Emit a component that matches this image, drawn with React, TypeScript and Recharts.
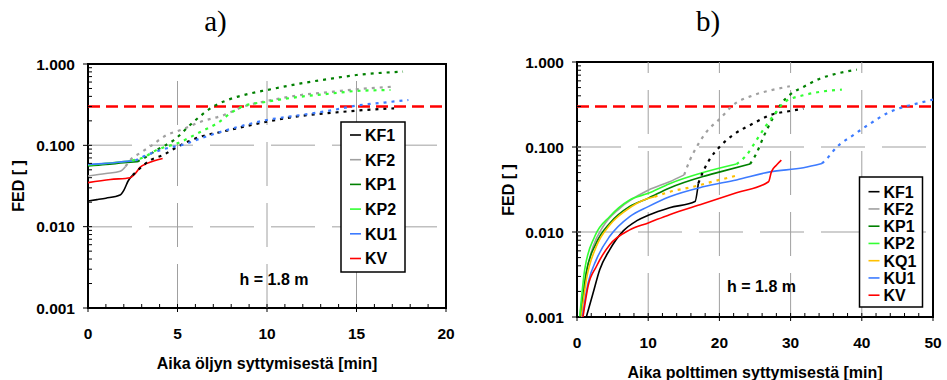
import React from 'react'
import { LineChart, Line, XAxis, YAxis, ReferenceLine, ReferenceArea } from 'recharts'

// ─── Data ────────────────────────────────────────────────────────────

type Pt = [number, number]

// a) Aika öljyn syttymisestä
const aKF1Solid: Pt[] = [[0, 0.0207], [0.5, 0.0215], [1.0, 0.0224], [1.79, 0.0245], [2.0, 0.028], [2.25, 0.0367], [2.5, 0.043]]
const aKF1Dotted: Pt[] = [[2.5, 0.043], [3.1, 0.057], [3.5, 0.066], [4.2, 0.076], [5.0, 0.096], [6.3, 0.128], [7.5, 0.147], [10, 0.195], [11.9, 0.23], [13.7, 0.252], [15, 0.267], [17.1, 0.285]]
const aKF2Solid: Pt[] = [[0, 0.042], [1.0, 0.045], [1.8, 0.048], [2.1, 0.055]]
const aKF2Dotted: Pt[] = [[2.1, 0.055], [2.36, 0.066], [2.9, 0.08], [3.5, 0.098], [4.4, 0.134], [5.2, 0.155], [6.3, 0.195], [7.6, 0.236], [8.7, 0.3], [10, 0.351], [11.9, 0.416], [13.7, 0.457], [15, 0.489], [17, 0.526]]
const aKP1Solid: Pt[] = [[0, 0.0557], [1, 0.058], [2, 0.061], [2.74, 0.063]]
const aKP1Dotted: Pt[] = [[2.74, 0.063], [3.1, 0.069], [3.85, 0.088], [4.8, 0.116], [5.9, 0.195], [7.0, 0.3], [7.8, 0.361], [9.1, 0.436], [10, 0.479], [11.9, 0.578], [13.7, 0.667], [15, 0.732], [17.6, 0.805]]
const aKP2Solid: Pt[] = [[0, 0.057], [1, 0.06], [2, 0.063], [2.46, 0.065]]
const aKP2Dotted: Pt[] = [[2.46, 0.065], [3.1, 0.071], [3.85, 0.088], [5.0, 0.106], [6.3, 0.147], [7.2, 0.186], [8.1, 0.26], [8.7, 0.304], [10, 0.344], [11.9, 0.397], [13.7, 0.436], [15, 0.466], [16.9, 0.479]]
const aKU1Solid: Pt[] = [[0, 0.0584], [1, 0.06], [2, 0.063], [2.64, 0.065]]
const aKU1Dotted: Pt[] = [[2.64, 0.065], [3.3, 0.076], [4.4, 0.092], [5.25, 0.101], [6.3, 0.122], [8.1, 0.162], [10, 0.205], [11.9, 0.236], [13.7, 0.272], [15, 0.308], [16.5, 0.335], [17.9, 0.361]]
const aKVSolid: Pt[] = [[0, 0.0348], [1.25, 0.038], [2.37, 0.04], [2.64, 0.045], [2.92, 0.054], [3.3, 0.06], [4.17, 0.069]]

// b) Aika polttimen syttymisestä
const bKF1Solid: Pt[] = [[1.31, 0.001], [2.25, 0.0019], [3.19, 0.0036], [4.6, 0.0062], [6.5, 0.0103], [8.35, 0.0135], [10, 0.0157], [13, 0.0193], [16.57, 0.0228], [17.04, 0.0374]]
const bKF1Dotted: Pt[] = [[17.04, 0.0374], [17.7, 0.051], [18.7, 0.073], [20, 0.1], [21.9, 0.138], [24.75, 0.189], [27.1, 0.237], [30, 0.266], [31.8, 0.283]]
const bKF2Solid: Pt[] = [[0.38, 0.001], [1.08, 0.0027], [2.25, 0.0067], [3.66, 0.0116], [6.0, 0.019], [10, 0.031], [13, 0.039], [15.05, 0.047]]
const bKF2Dotted: Pt[] = [[15.05, 0.047], [15.85, 0.07], [16.8, 0.1], [18.2, 0.151], [20.1, 0.216], [21.9, 0.31], [24.75, 0.406], [27.6, 0.473], [29.9, 0.518]]
const bKP1Solid: Pt[] = [[0.52, 0.001], [1.3, 0.0033], [2.7, 0.0074], [4.6, 0.0127], [7.4, 0.02], [10, 0.025], [13, 0.033], [17.7, 0.045], [20.1, 0.051], [24.3, 0.063]]
const bKP1Dotted: Pt[] = [[24.3, 0.063], [25.2, 0.084], [26.2, 0.132], [27.6, 0.226], [28.7, 0.324], [30, 0.418], [31.8, 0.509], [34.1, 0.637], [36.5, 0.73], [39.3, 0.813]]
const bKP2Solid: Pt[] = [[0.38, 0.001], [1.08, 0.0036], [2.5, 0.0089], [4.6, 0.0152], [7.4, 0.0238], [10, 0.0285], [13, 0.037], [17.7, 0.05], [22.4, 0.063]]
const bKP2Dotted: Pt[] = [[22.4, 0.063], [23.8, 0.08], [25.2, 0.12], [26.6, 0.181], [28.0, 0.259], [29.2, 0.34], [31.8, 0.406], [34.1, 0.445], [37.2, 0.473]]
const bKQ1Solid: Pt[] = [[0.6, 0.001], [1.3, 0.0027], [2.7, 0.0067], [4.6, 0.0121], [6.9, 0.018], [9.75, 0.0245], [10.9, 0.026]]
const bKQ1Dotted: Pt[] = [[10.9, 0.026], [13.1, 0.0298], [16.3, 0.034], [19, 0.039], [22.4, 0.046]]
const bKU1Solid: Pt[] = [[0.75, 0.001], [1.55, 0.0025], [2.7, 0.0047], [4.6, 0.0089], [7.4, 0.0152], [10, 0.0199], [13, 0.026], [17.7, 0.034], [22.4, 0.041], [27.1, 0.051], [31.8, 0.057], [34.4, 0.064]]
const bKU1Dotted: Pt[] = [[34.4, 0.064], [35.1, 0.073], [36.5, 0.1], [38.8, 0.138], [41.2, 0.189], [43.5, 0.248], [45.85, 0.296], [47.7, 0.324], [50, 0.361]]
const bKVSolid: Pt[] = [[0.84, 0.001], [1.55, 0.0023], [2.7, 0.0039], [4.6, 0.0071], [7.4, 0.0106], [10, 0.0128], [13, 0.016], [17.7, 0.0215], [22.4, 0.029], [26.9, 0.039], [27.3, 0.051], [28.0, 0.061], [28.7, 0.07]]

// ticks
const yTicks = [
    0.001, 0.002, 0.003, 0.004, 0.005, 0.006, 0.007, 0.008, 0.009,
    0.01, 0.02, 0.03, 0.04, 0.05, 0.06, 0.07, 0.08, 0.09,
    0.1, 0.2, 0.3, 0.4, 0.5, 0.6, 0.7, 0.8, 0.9, 1,
]
const yMajor = [0.001, 0.01, 0.1, 1]
const aXTicks = [0, 1, 2, 3, 4, 5, 6, 7, 8, 9, 10, 11, 12, 13, 14, 15, 16, 17, 18, 19, 20]
const aXMajor = [0, 5, 10, 15, 20]
const bXTicks = [0, 2, 4, 6, 8, 10, 12, 14, 16, 18, 20, 22, 24, 26, 28, 30, 32, 34, 36, 38, 40, 42, 44, 46, 48, 50]
const bXMajor = [0, 10, 20, 30, 40, 50]
const limitFED = 0.3

// ─── Styles ──────────────────────────────────────────────────────────

const SANS = '"Liberation Sans", Arial, sans-serif'
const SERIF = '"Liberation Serif", "Times New Roman", serif'

const colors: Record<string, string> = {
    KF1: '#000000',
    KF2: '#a0a0a0',
    KP1: '#008000',
    KP2: '#33ff33',
    KQ1: '#ffc000',
    KU1: '#3d7bff',
    KV: '#ff0000',
}

type Series = { name: string; solid: Pt[]; dotted: Pt[] }

const seriesA: Series[] = [
    { name: 'KF1', solid: aKF1Solid, dotted: aKF1Dotted },
    { name: 'KF2', solid: aKF2Solid, dotted: aKF2Dotted },
    { name: 'KP1', solid: aKP1Solid, dotted: aKP1Dotted },
    { name: 'KP2', solid: aKP2Solid, dotted: aKP2Dotted },
    { name: 'KU1', solid: aKU1Solid, dotted: aKU1Dotted },
    { name: 'KV', solid: aKVSolid, dotted: [] },
]

const seriesB: Series[] = [
    { name: 'KF1', solid: bKF1Solid, dotted: bKF1Dotted },
    { name: 'KF2', solid: bKF2Solid, dotted: bKF2Dotted },
    { name: 'KP1', solid: bKP1Solid, dotted: bKP1Dotted },
    { name: 'KP2', solid: bKP2Solid, dotted: bKP2Dotted },
    { name: 'KQ1', solid: bKQ1Solid, dotted: bKQ1Dotted },
    { name: 'KU1', solid: bKU1Solid, dotted: bKU1Dotted },
    { name: 'KV', solid: bKVSolid, dotted: [] },
]

const toRows = (pts: Pt[]) => pts.map(([x, y]) => ({ x, y }))

// ─── Ticks ───────────────────────────────────────────────────────────

function YTick(props: any) {
    const { x, y, payload } = props
    const major = yMajor.includes(payload.value)
    return (
        <g>
            <line x1={major ? x - 5 : x} x2={x + 4} y1={y} y2={y} stroke="#000" strokeWidth={1} />
            {major && (
                <text x={x - 13} y={y + 5.5} textAnchor="end" fontFamily={SANS} fontWeight="bold" fontSize={15.5} fill="#000">
                    {payload.value.toFixed(3)}
                </text>
            )}
        </g>
    )
}

function makeXTick(majors: number[]) {
    return (props: any) => {
        const { x, y, payload } = props
        const major = majors.includes(payload.value)
        return (
            <g>
                <line x1={x} x2={x} y1={y - 4} y2={major ? y + 4 : y} stroke="#000" strokeWidth={1} />
                {major && (
                    <text x={x} y={y + 30.5} textAnchor="middle" fontFamily={SANS} fontWeight="bold" fontSize={15.5} fill="#000">
                        {payload.value}
                    </text>
                )}
            </g>
        )
    }
}

// ─── Panel ───────────────────────────────────────────────────────────

type PanelProps = {
    series: Series[]
    xMax: number
    xTicks: number[]
    xMajor: number[]
    margin: { top: number; right: number; bottom: number; left: number }
}

function Panel({ series, xMax, xTicks, xMajor, margin }: PanelProps) {
    const gridX = xMajor.filter(v => v > 0 && v < xMax)
    return (
        <div style={{ position: 'absolute', left: 0, top: 0 }}>
            <LineChart width={947} height={380} margin={margin}>
                <XAxis
                    type="number" dataKey="x" domain={[0, xMax]} ticks={xTicks} interval={0}
                    allowDataOverflow axisLine={false} tickLine={false} tickSize={0} tickMargin={0}
                    height={30} tick={makeXTick(xMajor)}
                />
                <YAxis
                    type="number" dataKey="y" scale="log" domain={[0.001, 1]} ticks={yTicks} interval={0}
                    allowDataOverflow axisLine={false} tickLine={false} tickSize={0} tickMargin={0}
                    width={60} tick={YTick}
                />
                {[0.01, 0.1].map(v => (
                    <ReferenceLine key={'h' + v} y={v} stroke="#c0c0c0" strokeWidth={1.5} strokeDasharray="44 17" />
                ))}
                {gridX.map(v => (
                    <ReferenceLine key={'v' + v} x={v} stroke="#a0a0a0" strokeWidth={1} strokeDasharray="44 17" />
                ))}
                <ReferenceLine y={limitFED} stroke="#ff0000" strokeWidth={2.5} strokeDasharray="12 6" />
                {series.map(s => (
                    <Line
                        key={s.name + '-s'} data={toRows(s.solid)} dataKey="y" type="monotone"
                        stroke={colors[s.name]} strokeWidth={1.6} dot={false} isAnimationActive={false}
                    />
                ))}
                {series.filter(s => s.dotted.length > 0).map(s => (
                    <Line
                        key={s.name + '-d'} data={toRows(s.dotted)} dataKey="y" type="monotone"
                        stroke={colors[s.name]} strokeWidth={2.2} strokeDasharray="3 5" dot={false} isAnimationActive={false}
                    />
                ))}
                <ReferenceArea x1={0} x2={xMax} y1={0.001} y2={1} fill="none" stroke="#000" strokeWidth={2} />
            </LineChart>
        </div>
    )
}

function LegendBox({ series, x, y, w, h, first, step }: { series: Series[]; x: number; y: number; w: number; h: number; first: number; step: number }) {
    return (
        <g>
            <rect x={x} y={y} width={w} height={h} fill="#fff" stroke="#000" strokeWidth={1.5} />
            {series.map((s, i) => {
                const cy = first + i * step
                return (
                    <g key={s.name}>
                        <line x1={x + 9} x2={x + 20} y1={cy} y2={cy} stroke={colors[s.name]} strokeWidth={1.6} />
                        <text x={x + 24} y={cy + 5.8} fontFamily={SANS} fontWeight="bold" fontSize={16} fill="#000">{s.name}</text>
                    </g>
                )
            })}
        </g>
    )
}

// ─── App ─────────────────────────────────────────────────────────────

export default function App() {
    return (
        <div style={{ position: 'absolute', left: 0, top: 0, width: 947, height: 380, background: '#fff', overflow: 'hidden' }}>
            <Panel series={seriesA} xMax={20} xTicks={aXTicks} xMajor={aXMajor} margin={{ top: 64, right: 501, bottom: 42, left: 28 }} />
            <Panel series={seriesB} xMax={50} xTicks={bXTicks} xMajor={bXMajor} margin={{ top: 62, right: 14, bottom: 33, left: 517 }} />
            <svg width={947} height={380} style={{ position: 'absolute', left: 0, top: 0, pointerEvents: 'none' }}>
                <text x={215.5} y={31} textAnchor="middle" fontFamily={SERIF} fontSize={29} fill="#000">a)</text>
                <text x={708} y={31} textAnchor="middle" fontFamily={SERIF} fontSize={29} fill="#000">b)</text>

                <text x={267} y={369} textAnchor="middle" fontFamily={SANS} fontWeight="bold" fontSize={16} fill="#000">Aika öljyn syttymisestä [min]</text>
                <text x={755} y={378} textAnchor="middle" fontFamily={SANS} fontWeight="bold" fontSize={16} fill="#000">Aika polttimen syttymisestä [min]</text>

                <text transform="translate(24,186) rotate(-90)" textAnchor="middle" fontFamily={SANS} fontWeight="bold" fontSize={16} fill="#000">FED [ ]</text>
                <text transform="translate(514,190) rotate(-90)" textAnchor="middle" fontFamily={SANS} fontWeight="bold" fontSize={16} fill="#000">FED [ ]</text>

                <text x={274} y={285} textAnchor="middle" fontFamily={SANS} fontWeight="bold" fontSize={16} fill="#000">h = 1.8 m</text>
                <text x={761.5} y={292} textAnchor="middle" fontFamily={SANS} fontWeight="bold" fontSize={16} fill="#000">h = 1.8 m</text>

                <LegendBox series={seriesA} x={341} y={122} w={64} h={150} first={135} step={24.7} />
                <LegendBox series={seriesB} x={859.5} y={177} w={63} h={130} first={191.7} step={17.25} />
            </svg>
        </div>
    )
}
